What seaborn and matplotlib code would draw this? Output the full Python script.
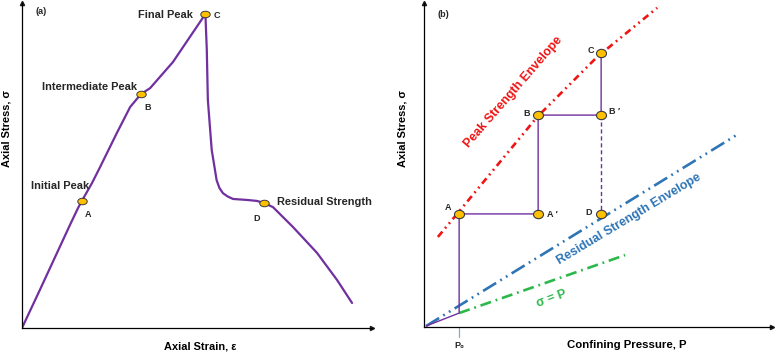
import numpy as np
import pandas as pd
import matplotlib
matplotlib.use("Agg")
import matplotlib.pyplot as plt
from matplotlib.markers import MarkerStyle
from matplotlib.transforms import Affine2D
import seaborn as sns

# ---- panel (a): stress-strain curve ----
strain = [0.0, 0.51, 1.00, 1.37, 1.60, 1.71, 2.00, 2.23, 2.71, 3.09, 3.40, 3.66, 4.31,
          5.24, 5.28, 5.31, 5.42, 5.49, 5.56, 5.64, 5.74, 5.87, 6.03, 6.43, 6.71, 6.91,
          7.17, 7.74, 8.43, 9.00, 9.43]
stress = [0.0, 1.17, 2.31, 3.17, 3.69, 3.91, 4.46, 4.95, 6.00, 6.80, 7.20, 7.38, 8.18,
          9.66, 8.55, 7.02, 5.48, 5.02, 4.55, 4.31, 4.15, 4.05, 3.97, 3.94, 3.91, 3.85,
          3.72, 3.11, 2.31, 1.48, 0.77]
pts_a_name = ["A", "B", "C", "D"]
pts_a_x = [1.71, 3.40, 5.24, 6.91]
pts_a_y = [3.91, 7.20, 9.66, 3.85]

# ---- panel (b): stress path in confining pressure space ----
p0 = 1.01
path_x = [0.06, 1.01, 1.01, 3.28, 3.28, 5.09, 5.09]
path_y = [0.03, 0.43, 3.49, 3.49, 6.54, 6.54, 8.46]
drop_x = [5.09, 5.09]
drop_y = [6.54, 3.49]
pts_b_name = ["A", "A′", "B", "B′", "C", "D"]
pts_b_x = [1.01, 3.28, 3.28, 5.09, 5.09, 5.09]
pts_b_y = [3.49, 3.49, 6.54, 6.54, 8.46, 3.49]
peak_x = [0.40, 0.95, 3.25, 4.97, 6.70]
peak_y = [2.78, 3.49, 6.48, 8.33, 9.85]
resid_x = [0.06, 8.99]
resid_y = [0.03, 5.93]
equal_x = [1.01, 5.78]
equal_y = [0.43, 2.22]

sns.set_theme(style="white")
plt.rcParams['font.family'] = ['Liberation Sans', 'DejaVu Sans']
plt.rcParams['font.weight'] = 'bold'
plt.rcParams['lines.scale_dashes'] = False

purple = '#7030A0'
gold = '#FFC000'
red = '#F01414'
blue = '#2E75B6'
green = '#2DB84B'

fig = plt.figure(figsize=(7.77, 3.55), dpi=100)
ax1 = fig.add_axes([22 / 777, 27 / 355, 350 / 777, 325 / 355])
ax2 = fig.add_axes([424 / 777, 28 / 355, 348 / 777, 324 / 355])


def arrow_axes(ax_):
    ax_.set_xlim(0, 10)
    ax_.set_ylim(0, 10)
    ax_.set_xticks([])
    ax_.set_yticks([])
    for s in ['top', 'right']:
        ax_.spines[s].set_visible(False)
    for s in ['left', 'bottom']:
        ax_.spines[s].set_color('black')
        ax_.spines[s].set_linewidth(0.9)
    ax_.plot(1, 0, '>k', ms=3, transform=ax_.transAxes, clip_on=False)
    ax_.plot(0, 1, '^k', ms=3, transform=ax_.transAxes, clip_on=False)
    ax_.patch.set_alpha(0)


arrow_axes(ax1)
arrow_axes(ax2)

# panel (a)
df_a = pd.DataFrame({'strain': strain, 'stress': stress})
sns.lineplot(data=df_a, x='strain', y='stress', sort=False, estimator=None,
             color=purple, lw=1.6, ax=ax1)
ell_a = MarkerStyle('o', transform=Affine2D().scale(1.45, 1.0))
sns.scatterplot(x=pts_a_x, y=pts_a_y, marker=ell_a, s=22, color=gold,
                edgecolor='#3a3a3a', linewidth=0.7, zorder=5, ax=ax1)

fs = 7.9
fl = 6.5
ax1.text(0.54, 9.75, '(a)', fontsize=fl, ha='center', va='center')
ax1.text(4.89, 9.63, 'Final Peak', fontsize=fs, ha='right', va='center')
ax1.text(5.57, 9.63, 'C', fontsize=fl, ha='center', va='center')
ax1.text(0.57, 7.42, 'Intermediate Peak', fontsize=fs, ha='left', va='center')
ax1.text(3.60, 6.77, 'B', fontsize=fl, ha='center', va='center')
ax1.text(0.26, 4.37, 'Initial Peak', fontsize=fs, ha='left', va='center')
ax1.text(1.89, 3.48, 'A', fontsize=fl, ha='center', va='center')
ax1.text(6.71, 3.38, 'D', fontsize=fl, ha='center', va='center')
ax1.text(7.29, 3.88, 'Residual Strength', fontsize=fs, ha='left', va='center')
ax1.set_xlabel('Axial Strain, ε', fontsize=fs, fontweight='bold', visible=True, color='black')
ax1.set_ylabel('Axial Stress, σ', fontsize=fs, fontweight='bold', visible=True, color='black')
ax1.xaxis.set_label_coords(0.509, -0.043)
ax1.yaxis.set_label_coords(-0.029, 0.615)

# panel (b)
sns.lineplot(x=resid_x, y=resid_y, sort=False, estimator=None, color=blue, lw=1.9, ax=ax2)
ax2.lines[-1].set_dashes([11, 3.5, 1.3, 3.5, 1.3, 3.5])
sns.lineplot(x=equal_x, y=equal_y, sort=False, estimator=None, color=green, lw=1.9, ax=ax2)
ax2.lines[-1].set_dashes([8, 3.5, 1.3, 3.5])
sns.lineplot(x=peak_x, y=peak_y, sort=False, estimator=None, color=red, lw=1.9, ax=ax2)
ax2.lines[-1].set_dashes([5, 3, 1.3, 3, 1.3, 3])
sns.lineplot(x=path_x, y=path_y, sort=False, estimator=None, color=purple, lw=1.0, ax=ax2)
sns.lineplot(x=drop_x, y=drop_y, sort=False, estimator=None, color=purple, lw=1.0, ax=ax2)
ax2.lines[-1].set_dashes([3, 2])
sns.lineplot(x=[p0, p0], y=[-0.03, -0.31], sort=False, estimator=None,
             color='#8aa9c4', lw=0.9, ax=ax2)
ax2.lines[-1].set_clip_on(False)
ell_b = MarkerStyle('o', transform=Affine2D().scale(1.2, 1.0))
sns.scatterplot(x=pts_b_x, y=pts_b_y, marker=ell_b, s=36, color=gold,
                edgecolor='#3a3a3a', linewidth=0.8, zorder=5, ax=ax2)

ax2.text(0.55, 9.66, '(b)', fontsize=fl, ha='center', va='center')
ax2.text(0.69, 3.70, 'A', fontsize=fl, ha='center', va='center')
ax2.text(3.53, 3.46, 'A ′', fontsize=fl, ha='left', va='center')
ax2.text(2.96, 6.60, 'B', fontsize=fl, ha='center', va='center')
ax2.text(5.32, 6.64, 'B ′', fontsize=fl, ha='left', va='center')
ax2.text(4.80, 8.52, 'C', fontsize=fl, ha='center', va='center')
ax2.text(4.74, 3.52, 'D', fontsize=fl, ha='center', va='center')
ax2.text(2.56, 7.25, 'Peak Strength Envelope', fontsize=9, color=red,
         rotation=49, ha='center', va='center', rotation_mode='anchor')
ax2.text(5.89, 3.33, 'Residual Strength Envelope', fontsize=9, color=blue,
         rotation=31, ha='center', va='center', rotation_mode='anchor')
ax2.text(3.68, 0.86, 'σ = P', fontsize=9, color=green,
         rotation=20, ha='center', va='center', rotation_mode='anchor')
ax2.text(p0, -0.56, 'P₀', fontsize=fl, ha='center', va='center', clip_on=False)
ax2.set_xlabel('Confining Pressure, P', fontsize=fs + 0.3, fontweight='bold', visible=True, color='black')
ax2.set_ylabel('Axial Stress, σ', fontsize=fs, fontweight='bold', visible=True, color='black')
ax2.xaxis.set_label_coords(0.583, -0.040)
ax2.yaxis.set_label_coords(-0.046, 0.614)

fig.savefig('out.png', dpi=100)
